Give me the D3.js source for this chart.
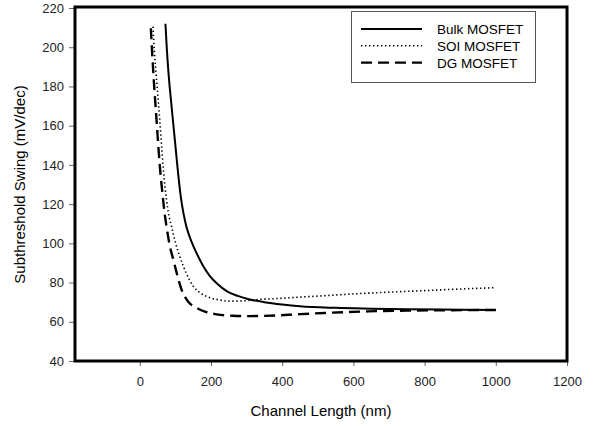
<!DOCTYPE html>
<meta charset="utf-8">
<head>
<style>
  body { margin: 0; background: #fff; }
  .axis text { font: 13px Arial, "Liberation Sans", sans-serif; fill: #222; }
  .axis line { stroke: #666; }
  .axis path { display: none; }
  .title { font: 15px Arial, "Liberation Sans", sans-serif; fill: #000; }
  .legend text { font: 13.5px Arial, "Liberation Sans", sans-serif; fill: #000; }
</style>
</head>
<body>
<script src="https://d3js.org/d3.v7.min.js"></script>
<script>
// channel length (nm) and subthreshold swing (mV/dec)
var bulkL = [72, 76, 81, 87, 94, 101, 108, 115, 123, 131, 145, 159, 178, 197, 220, 244, 275, 309, 350, 400, 450, 550, 650, 750, 850, 1000];
var bulkS = [212, 199, 186, 174, 161, 148, 135, 124, 115, 108.5, 101, 95.2, 88.5, 83.3, 79, 75.6, 73.2, 71.4, 70, 68.8, 67.9, 67.1, 66.7, 66.4, 66.2, 66.0];

var soiL = [37, 41, 46, 56, 66, 75, 80, 89, 100, 112, 130, 150, 172, 197, 225, 253, 290, 338, 400, 445, 500, 600, 675, 800, 900, 1000];
var soiS = [210.5, 198, 186, 163, 138, 122.3, 116, 108.7, 100.5, 93.4, 85, 78.2, 74.5, 72.3, 71.1, 70.5, 70.7, 71.4, 72, 72.5, 73.1, 74.2, 74.9, 75.9, 76.7, 77.4];

var dgL = [31, 38, 47, 56, 65.5, 70, 75, 84, 94, 105, 117, 135, 159, 185, 216, 260, 309, 380, 441, 520, 640, 750, 870, 1000];
var dgS = [209.7, 187, 163, 140, 122.3, 115, 108.7, 99, 91.8, 84, 76.5, 70.5, 67.2, 65, 63.8, 63.1, 62.9, 63.2, 63.8, 64.5, 65.3, 65.7, 65.9, 66.0];

var seriesNames = ["Bulk MOSFET", "SOI MOSFET", "DG MOSFET"];
var xTicks = [0, 200, 400, 600, 800, 1000, 1200];
var yTicks = [40, 60, 80, 100, 120, 140, 160, 180, 200, 220];

var W = 600, H = 426;
var pLeft = 75, pRight = 567, pTop = 8, pBottom = 361;

var svg = d3.select("body").append("svg")
    .attr("width", W)
    .attr("height", H);

var x = d3.scaleLinear().domain([-182, 1200]).range([pLeft, pRight]);
var y = d3.scaleLinear().domain([40, 220]).range([pBottom, pTop]);

// axes (ticks only, frame drawn separately)
svg.append("g")
    .attr("class", "axis")
    .attr("transform", "translate(0," + pBottom + ")")
    .call(d3.axisBottom(x).tickValues(xTicks).tickSize(5).tickPadding(11).tickFormat(d3.format("d")));

svg.append("g")
    .attr("class", "axis")
    .attr("transform", "translate(" + pLeft + ",0)")
    .call(d3.axisLeft(y).tickValues(yTicks).tickSize(6).tickPadding(5));

// series
var series = [
  {L: bulkL, S: bulkS, width: 2, dash: null},
  {L: soiL, S: soiS, width: 1.6, dash: "1.4,2.6"},
  {L: dgL, S: dgS, width: 2.4, dash: "11,6"}
];

var line = d3.line()
    .x(function(d) { return x(d[0]); })
    .y(function(d) { return y(d[1]); })
    .curve(d3.curveMonotoneX);

series.forEach(function(s) {
  svg.append("path")
      .datum(d3.zip(s.L, s.S))
      .attr("fill", "none")
      .attr("stroke", "#000")
      .attr("stroke-width", s.width)
      .attr("stroke-dasharray", s.dash)
      .attr("d", line);
});

// plot frame
svg.append("rect")
    .attr("x", pLeft)
    .attr("y", pTop - 1)
    .attr("width", pRight - pLeft)
    .attr("height", pBottom - pTop + 1)
    .attr("fill", "none")
    .attr("stroke", "#000")
    .attr("stroke-width", 3);

// legend
var lg = svg.append("g").attr("class", "legend");
lg.append("rect")
    .attr("x", 351.5).attr("y", 11.5)
    .attr("width", 184).attr("height", 71)
    .attr("fill", "#fff")
    .attr("stroke", "#555")
    .attr("stroke-width", 1);

seriesNames.forEach(function(name, i) {
  var yy = 29 + i * 16.8;
  lg.append("line")
      .attr("x1", 361).attr("x2", 422)
      .attr("y1", yy).attr("y2", yy)
      .attr("stroke", "#000")
      .attr("stroke-width", series[i].width)
      .attr("stroke-dasharray", series[i].dash);
  lg.append("text")
      .attr("x", 437).attr("y", yy + 5)
      .text(name);
});

// axis titles
svg.append("text")
    .attr("class", "title")
    .attr("x", (pLeft + pRight) / 2)
    .attr("y", 416)
    .attr("text-anchor", "middle")
    .text("Channel Length (nm)");

svg.append("text")
    .attr("class", "title")
    .attr("transform", "translate(25," + ((pTop + pBottom) / 2) + ") rotate(-90)")
    .attr("text-anchor", "middle")
    .text("Subthreshold Swing (mV/dec)");
</script>
</body>
